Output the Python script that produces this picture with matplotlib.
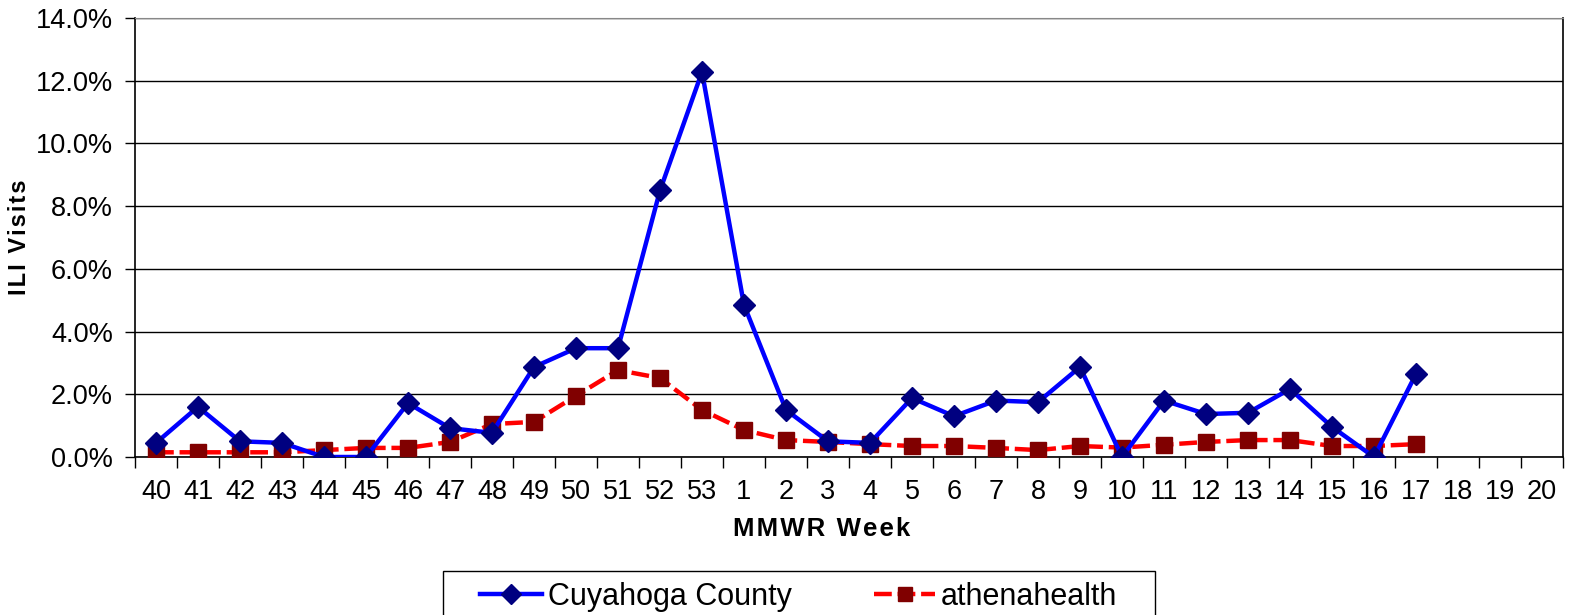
import numpy as np
import matplotlib
matplotlib.use("Agg")
import matplotlib.pyplot as plt
from matplotlib.patches import Rectangle
from matplotlib.ticker import FuncFormatter, FixedLocator

plt.rcParams['font.family'] = ['Liberation Sans', 'DejaVu Sans']

weeks = [str(w) for w in list(range(40, 54)) + list(range(1, 21))]

# ILI visits, %; None = no data yet
cuyahoga = [0.45, 1.6, 0.5, 0.45, 0.0, 0.0, 1.72, 0.92, 0.77, 2.87, 3.47, 3.47,
            8.5, 12.28, 4.85, 1.5, 0.5, 0.45, 1.88, 1.3, 1.8, 1.75, 2.87, 0.0,
            1.8, 1.37, 1.41, 2.17, 0.96, 0.0, 2.65, None, None, None]
athena = [0.15, 0.15, 0.15, 0.15, 0.22, 0.29, 0.29, 0.48, 1.05, 1.12, 1.95, 2.77,
          2.52, 1.5, 0.86, 0.54, 0.48, 0.41, 0.35, 0.35, 0.29, 0.22, 0.35, 0.3,
          0.39, 0.48, 0.54, 0.54, 0.35, 0.35, 0.41, None, None, None]

cuy = np.array([np.nan if v is None else v for v in cuyahoga])
ath = np.array([np.nan if v is None else v for v in athena])
x = np.arange(len(weeks))

W, H = 1569, 615
fig = plt.figure(figsize=(W / 100, H / 100), dpi=100)
ax = fig.add_axes([135 / W, (H - 457) / H, (1563 - 135) / W, (457 - 18) / H])

ax.plot(x, cuy, color='#0000FF', lw=3.2, marker='D', ms=11.5,
        mfc='#000080', mec='#000080', label='Cuyahoga County', zorder=4)
ax.plot(x, ath, color='#FF0000', lw=3.2, ls=(0, (4, 1.3)), marker='s', ms=11,
        mfc='#800000', mec='#800000', label='athenahealth', zorder=3)

ax.set_xlim(-0.5, len(weeks) - 0.5)
ax.set_ylim(0, 14)
ax.set_yticks(np.arange(0, 15, 2))
ax.yaxis.set_major_formatter(FuncFormatter(lambda v, p: f"{v:.1f}%"))
ax.grid(axis='y', color='black', lw=1)
ax.set_axisbelow(True)

ax.set_xticks(x)
ax.set_xticklabels(weeks)
ax.xaxis.set_minor_locator(FixedLocator(np.arange(-0.5, len(weeks), 1)))
ax.tick_params(axis='x', which='major', length=0, labelsize=19.5, pad=16)
ax.tick_params(axis='x', which='minor', length=8, width=1, direction='out')
ax.tick_params(axis='y', length=7, width=1, labelsize=19.5, pad=9)

for s in ['left', 'bottom', 'right']:
    ax.spines[s].set_color('black')
    ax.spines[s].set_linewidth(1.2)
ax.spines['top'].set_color('#888888')

hs = '\u200a'
ax.set_xlabel(hs.join('MMWR Week'), fontsize=18.5, fontweight='bold')
ax.xaxis.set_label_coords((822 - 135) / 1428, (457 - 517) / 439)
ax.set_ylabel(hs.join('ILI Visits'), fontsize=17, fontweight='bold', labelpad=3)

leg = fig.legend(loc='upper center', bbox_to_anchor=(799 / W, 1 - 573 / H),
                 ncol=2, fontsize=22, frameon=False, borderaxespad=0,
                 columnspacing=2.7, handlelength=2.0, handletextpad=0.2,
                 borderpad=0.3)
for h in leg.legend_handles:
    h.set_markersize(10)
fig.patches.append(Rectangle((443 / W, -0.01), (1155 - 443) / W, 0.01 + (H - 571) / H,
                             transform=fig.transFigure, fill=False,
                             edgecolor='black', lw=1))

fig.savefig('out.png', dpi=100)
